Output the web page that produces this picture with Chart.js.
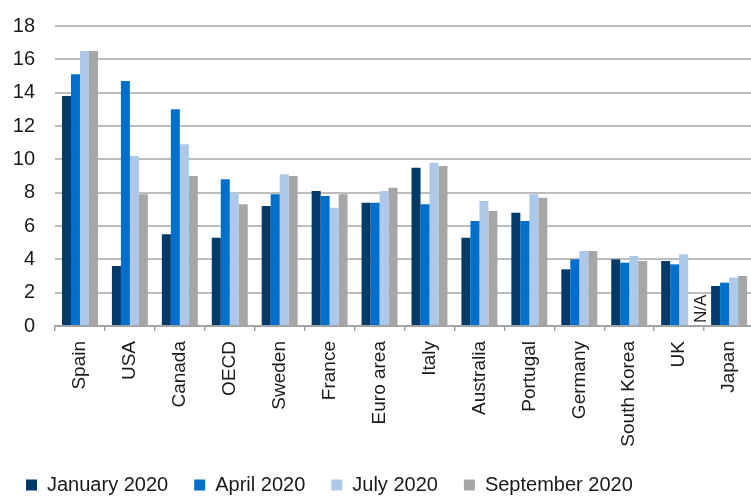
<!DOCTYPE html>
<html>
<head>
<meta charset="utf-8">
<script src="https://cdn.jsdelivr.net/npm/chart.js@4/dist/chart.umd.min.js"></script>
<style>
  html, body { margin: 0; padding: 0; background: #fff; overflow: hidden; }
  #chart { display: block; }
</style>
</head>
<body>
<canvas id="chart" width="762" height="497"></canvas>
<script>
// Countries along the x axis
const countries = ['Spain', 'USA', 'Canada', 'OECD', 'Sweden', 'France', 'Euro area',
    'Italy', 'Australia', 'Portugal', 'Germany', 'South Korea', 'UK', 'Japan'];

// Values per survey month (null = not available)
const jan2020 = [13.8, 3.6, 5.5, 5.3, 7.2, 8.1, 7.4, 9.5, 5.3, 6.8, 3.4, 4.0, 3.9, 2.4];
const apr2020 = [15.1, 14.7, 13.0, 8.8, 7.9, 7.8, 7.4, 7.3, 6.3, 6.3, 4.0, 3.8, 3.7, 2.6];
const jul2020 = [16.5, 10.2, 10.9, 8.0, 9.1, 7.1, 8.1, 9.8, 7.5, 7.9, 4.5, 4.2, 4.3, 2.9];
const sep2020 = [16.5, 7.9, 9.0, 7.3, 9.0, 7.9, 8.3, 9.6, 6.9, 7.7, 4.5, 3.9, null, 3.0];

const seriesNames = ['January 2020', 'April 2020', 'July 2020', 'September 2020'];
const yTicks = [0, 2, 4, 6, 8, 10, 12, 14, 16, 18];
const missingLabel = 'N/A';

const colors = ['#023a6a', '#0070cc', '#adc8e8', '#a6a6a6'];
const fontFamily = '"Liberation Sans", Arial, Helvetica, sans-serif';
const textColor = '#1a1a1a';

// Writes "N/A" vertically where a bar has no value
const missingValuePlugin = {
    id: 'missingValue',
    afterDatasetsDraw(chart) {
        const ctx = chart.ctx;
        const base = chart.scales.y.getPixelForValue(0);
        chart.data.datasets.forEach((ds, di) => {
            const meta = chart.getDatasetMeta(di);
            ds.data.forEach((v, i) => {
                if (v !== null) return;
                const x = meta.data[i].x;
                ctx.save();
                ctx.translate(x + 9, base - 3);
                ctx.rotate(-Math.PI / 2);
                ctx.font = '17px ' + fontFamily;
                ctx.fillStyle = textColor;
                ctx.textAlign = 'left';
                ctx.textBaseline = 'middle';
                ctx.fillText(missingLabel, 0, 0);
                ctx.restore();
            });
        });
    }
};

const ctx = document.getElementById('chart').getContext('2d');
new Chart(ctx, {
    type: 'bar',
    data: {
        labels: countries,
        datasets: [jan2020, apr2020, jul2020, sep2020].map((data, i) => ({
            label: seriesNames[i],
            data: data,
            backgroundColor: colors[i],
            borderWidth: 0,
            categoryPercentage: 0.72,
            barPercentage: 1.0
        }))
    },
    options: {
        responsive: false,
        animation: false,
        layout: { padding: { top: 26, right: 3, bottom: -8, left: 0 } },
        scales: {
            x: {
                afterFit(scale) {
                    scale.height = 123;
                },
                grid: {
                    offset: true,
                    drawOnChartArea: false,
                    drawTicks: true,
                    tickLength: 5,
                    color: '#a3a3a3',
                    lineWidth: 1.5
                },
                border: { display: true, color: '#a3a3a3', width: 2 },
                ticks: {
                    autoSkip: false,
                    maxRotation: 90,
                    minRotation: 90,
                    padding: 10,
                    color: textColor,
                    font: { family: fontFamily, size: 19 }
                }
            },
            y: {
                min: 0,
                max: 18,
                afterBuildTicks(scale) {
                    scale.ticks = yTicks.map(v => ({ value: v }));
                },
                afterFit(scale) {
                    scale.width = 55;
                },
                grid: {
                    color: '#bdbdbd',
                    lineWidth: 2,
                    drawTicks: true,
                    tickLength: 20,
                    tickColor: 'rgba(0,0,0,0)'
                },
                border: { display: false },
                ticks: {
                    padding: 0,
                    color: textColor,
                    font: { family: fontFamily, size: 20 }
                }
            }
        },
        plugins: {
            legend: {
                position: 'bottom',
                align: 'start',
                labels: {
                    boxWidth: 11,
                    boxHeight: 11,
                    padding: 26,
                    color: textColor,
                    font: { family: fontFamily, size: 20 }
                }
            },
            tooltip: { enabled: false }
        }
    },
    plugins: [missingValuePlugin]
});
</script>
</body>
</html>
